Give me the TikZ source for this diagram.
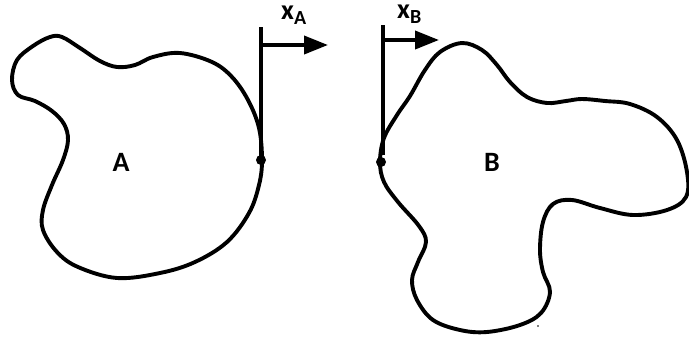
\documentclass[tikz,border=0pt]{standalone}
\usepackage{fontspec}
\setmainfont{Carlito}
\usetikzlibrary{arrows.meta}
\tikzset{
  blob/.style={line width=3.9pt, line join=round},
  bar/.style={line width=4pt},
  arr/.style={line width=3.8pt, -{Triangle[length=24pt,width=18pt]}},
  big/.style={font=\bfseries\fontsize{28}{28}\selectfont, inner sep=0pt},
  dot/.style={circle, fill=black, inner sep=0pt, minimum size=10pt}
}
\newcommand{\subl}[1]{\lower5pt\hbox{\fontsize{20}{20}\selectfont #1}}
\begin{document}
\begin{tikzpicture}[x=1pt,y=-1pt]
\useasboundingbox[fill=white] (0,0) rectangle (689,341);
% body A
\draw[blob] plot[smooth cycle, tension=0.6] coordinates {
 (262,160) (259,128) (248,100) (232,77) (212,62) (180,53) (153,57) (135,65)
 (117,67) (100,61) (80,48) (62,37) (50,37) (33,46) (17,60) (12,80) (18,95)
 (35,101) (52,111) (64,124) (68,140) (63,160) (52,185) (43,210) (43,230)
 (57,252) (78,267) (117,278) (160,273) (195,262) (227,242) (249,213) (259,185)};
% body B
\draw[blob] plot[smooth cycle, tension=0.6] coordinates {
 (380,162) (384,138) (397,115) (410,96) (425,70) (440,52) (462,43) (482,50)
 (497,65) (510,82) (527,97) (547,103) (566,101) (582,99) (605,101) (630,104)
 (657,117) (677,140) (687,172) (686,197) (667,210) (633,215) (600,208) (572,200)
 (553,204) (543,222) (540,250) (543,272) (550,292) (541,313) (520,325) (487,332)
 (460,330) (433,320) (417,300) (412,280) (418,262) (426,242) (419,226) (398,202)
 (384,182)};
% contact points and frames
\node[dot] (pa) at (261,160) {};
\node[dot] (pb) at (381,162) {};
\coordinate (ta) at (261,27);
\coordinate (tb) at (383,25);
\coordinate (ba) at (261,160);
\coordinate (bb) at (383,155);
\draw[bar] (ba) -- (ta);
\draw[bar] (bb) -- (tb);
\coordinate (sa) at (261,45);
\coordinate (ea) at (328,45);
\coordinate (sb) at (383,40);
\coordinate (eb) at (439,40);
\draw[arr] (sa) -- (ea);
\draw[arr] (sb) -- (eb);
% labels
\node[big, anchor=base west, text height=15pt, text depth=6pt] (xa) at (281,19) {x\subl{A}};
\node[big, anchor=base west, text height=15pt, text depth=6pt] (xb) at (397,18) {x\subl{B}};
\node[big] (la) at (121,162) {A};
\node[big] (lb) at (492,162) {B};
\fill (538,326) circle (0.8pt);
\end{tikzpicture}
\end{document}
